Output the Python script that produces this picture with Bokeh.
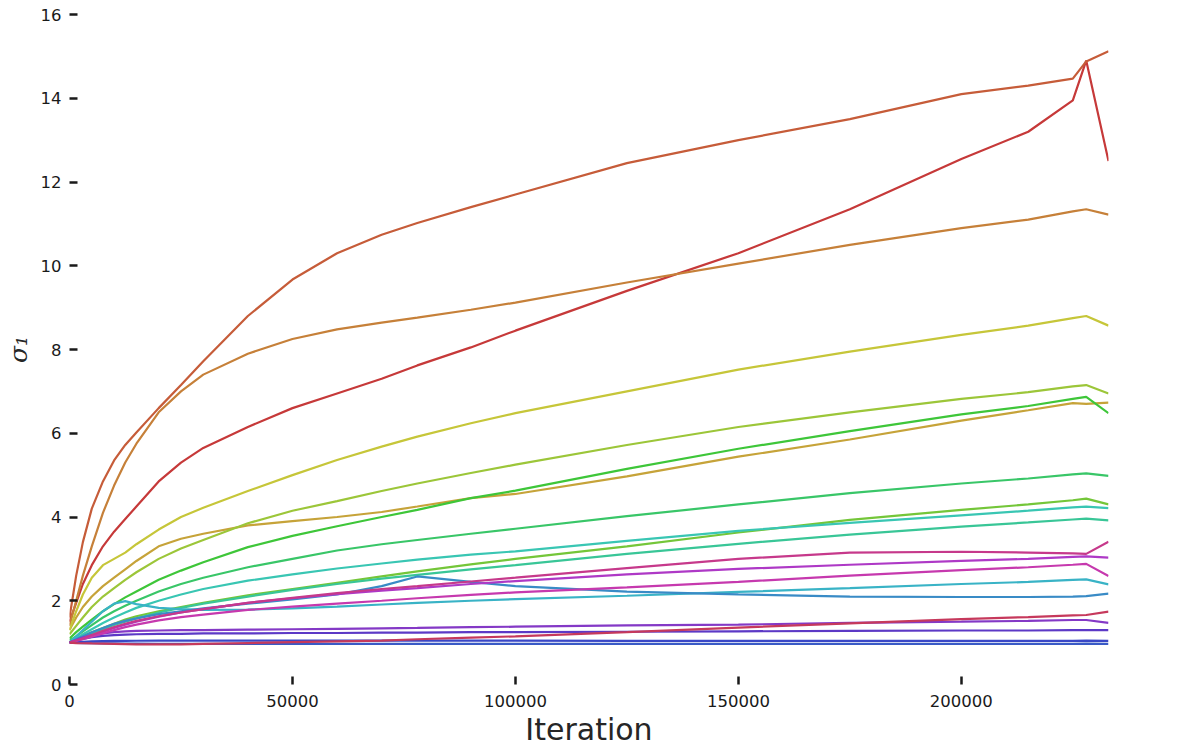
import colorsys
from bokeh.plotting import figure
from bokeh.models import Range1d, FixedTicker, BasicTickFormatter
from bokeh.embed import file_html
from bokeh.resources import INLINE

# ---- data ----
iterations = [0, 1500, 3000, 5000, 7500, 10000, 12500, 15000, 20000, 25000, 30000,
              40000, 50000, 60000, 70000, 78000, 90000, 100000, 125000, 150000,
              175000, 200000, 215000, 225000, 228000, 233000]

sigma_A = [1.6, 2.6, 3.4, 4.2, 4.85, 5.35, 5.72, 6.02, 6.6, 7.15, 7.72, 8.8, 9.67, 10.3, 10.74, 11.02,
           11.4, 11.7, 12.45, 13.0, 13.5, 14.1, 14.3, 14.47, 14.88, 15.12]
sigma_B = [1.5, 1.95, 2.4, 2.85, 3.3, 3.65, 3.95, 4.25, 4.85, 5.3, 5.65, 6.15, 6.6, 6.95, 7.3, 7.62,
           8.05, 8.45, 9.4, 10.3, 11.35, 12.55, 13.2, 13.95, 14.9, 12.5]
sigma_C = [1.4, 2.0, 2.6, 3.3, 4.1, 4.75, 5.3, 5.75, 6.5, 7.0, 7.4, 7.9, 8.25, 8.48, 8.64, 8.76,
           8.95, 9.12, 9.6, 10.05, 10.5, 10.9, 11.1, 11.3, 11.35, 11.22]
sigma_D = [1.3, 1.75, 2.15, 2.55, 2.85, 3.0, 3.15, 3.35, 3.7, 4.0, 4.22, 4.62, 5.0, 5.36, 5.68, 5.92,
           6.24, 6.48, 7.0, 7.52, 7.95, 8.35, 8.57, 8.75, 8.8, 8.57]
sigma_E = [1.3, 1.6, 1.85, 2.1, 2.35, 2.55, 2.75, 2.95, 3.3, 3.48, 3.6, 3.8, 3.9, 4.0, 4.12, 4.25,
           4.45, 4.55, 4.97, 5.44, 5.85, 6.3, 6.55, 6.72, 6.7, 6.73]
sigma_F = [1.2, 1.4, 1.6, 1.85, 2.1, 2.3, 2.5, 2.68, 3.0, 3.25, 3.45, 3.85, 4.15, 4.38, 4.62, 4.8,
           5.05, 5.25, 5.72, 6.15, 6.5, 6.82, 6.98, 7.12, 7.15, 6.95]
sigma_G = [1.1, 1.25, 1.38, 1.55, 1.75, 1.92, 2.08, 2.22, 2.5, 2.72, 2.92, 3.28, 3.55, 3.78, 4.0, 4.17,
           4.45, 4.63, 5.15, 5.63, 6.05, 6.45, 6.65, 6.82, 6.87, 6.48]
sigma_H = [1.05, 1.15, 1.27, 1.42, 1.6, 1.75, 1.88, 2.0, 2.22, 2.4, 2.55, 2.8, 3.0, 3.2, 3.35, 3.45,
           3.6, 3.72, 4.02, 4.3, 4.57, 4.8, 4.92, 5.02, 5.04, 4.98]
sigma_I = [1.0, 1.1, 1.2, 1.32, 1.47, 1.6, 1.72, 1.83, 2.0, 2.15, 2.28, 2.48, 2.63, 2.77, 2.89, 2.98,
           3.1, 3.18, 3.43, 3.67, 3.86, 4.04, 4.15, 4.23, 4.25, 4.21]
sigma_J = [1.0, 1.08, 1.15, 1.25, 1.35, 1.45, 1.55, 1.63, 1.75, 1.85, 1.95, 2.13, 2.28, 2.43, 2.58, 2.7,
           2.87, 3.0, 3.3, 3.63, 3.93, 4.17, 4.3, 4.4, 4.44, 4.3]
sigma_K = [1.0, 1.07, 1.13, 1.22, 1.32, 1.42, 1.5, 1.58, 1.72, 1.83, 1.93, 2.1, 2.26, 2.4, 2.53, 2.62,
           2.75, 2.85, 3.12, 3.36, 3.58, 3.77, 3.87, 3.94, 3.96, 3.92]
sigma_L = [1.0, 1.05, 1.1, 1.18, 1.28, 1.37, 1.45, 1.52, 1.63, 1.72, 1.8, 1.95, 2.07, 2.18, 2.28, 2.35,
           2.46, 2.55, 2.78, 3.0, 3.15, 3.17, 3.15, 3.13, 3.12, 3.41]
sigma_M = [1.0, 1.05, 1.1, 1.17, 1.26, 1.35, 1.43, 1.5, 1.62, 1.72, 1.8, 1.95, 2.06, 2.16, 2.24, 2.3,
           2.4, 2.47, 2.63, 2.76, 2.86, 2.95, 3.0, 3.05, 3.06, 3.03]
sigma_N = [1.0, 1.04, 1.08, 1.14, 1.22, 1.3, 1.37, 1.43, 1.53, 1.61, 1.67, 1.78, 1.86, 1.93, 2.0, 2.06,
           2.14, 2.2, 2.32, 2.45, 2.6, 2.73, 2.8, 2.86, 2.88, 2.59]
sigma_O = [1.0, 1.15, 1.3, 1.5, 1.75, 1.93, 1.99, 1.92, 1.83, 1.8, 1.78, 1.79, 1.82, 1.86, 1.91, 1.95,
           2.0, 2.04, 2.12, 2.21, 2.3, 2.4, 2.45, 2.5, 2.51, 2.39]
sigma_P = [1.0, 1.08, 1.15, 1.25, 1.35, 1.45, 1.52, 1.58, 1.68, 1.75, 1.82, 1.93, 2.03, 2.15, 2.35, 2.58,
           2.45, 2.35, 2.22, 2.15, 2.1, 2.09, 2.09, 2.1, 2.11, 2.17]
sigma_Q = [1.0, 0.99, 0.985, 0.98, 0.975, 0.97, 0.965, 0.96, 0.96, 0.96, 0.97, 0.99, 1.01, 1.03, 1.05, 1.08,
           1.12, 1.15, 1.25, 1.36, 1.46, 1.56, 1.61, 1.65, 1.66, 1.74]
sigma_R = [1.0, 1.06, 1.12, 1.18, 1.22, 1.25, 1.27, 1.28, 1.29, 1.3, 1.3, 1.31, 1.32, 1.33, 1.34, 1.35,
           1.37, 1.38, 1.41, 1.43, 1.47, 1.5, 1.52, 1.54, 1.54, 1.47]
sigma_S = [1.0, 1.05, 1.09, 1.13, 1.16, 1.18, 1.19, 1.2, 1.21, 1.21, 1.22, 1.22, 1.23, 1.23, 1.24, 1.24,
           1.25, 1.25, 1.26, 1.27, 1.28, 1.29, 1.29, 1.3, 1.3, 1.3]
sigma_T = [1.0, 1.01, 1.02, 1.03, 1.035, 1.04, 1.04, 1.045, 1.05, 1.05, 1.05, 1.05, 1.05, 1.05, 1.05, 1.05,
           1.05, 1.05, 1.04, 1.04, 1.04, 1.04, 1.04, 1.04, 1.05, 1.04]
sigma_U = [1.0, 0.995, 0.99, 0.985, 0.98, 0.98, 0.975, 0.975, 0.97, 0.97, 0.97, 0.97, 0.97, 0.97, 0.97, 0.97,
           0.97, 0.97, 0.97, 0.97, 0.97, 0.97, 0.97, 0.97, 0.975, 0.97]

x_ticks = [0, 50000, 100000, 150000, 200000]
y_ticks = [0, 2, 4, 6, 8, 10, 12, 14, 16]

# (series, hue in degrees) — hls palette style colouring
series = [
    (sigma_B, 0), (sigma_A, 15), (sigma_C, 30), (sigma_E, 45), (sigma_D, 60),
    (sigma_F, 78), (sigma_J, 95), (sigma_G, 118), (sigma_H, 140), (sigma_K, 160),
    (sigma_I, 172), (sigma_O, 188), (sigma_P, 205), (sigma_U, 226), (sigma_T, 234),
    (sigma_S, 255), (sigma_R, 272), (sigma_M, 290), (sigma_N, 310), (sigma_L, 325),
    (sigma_Q, 345),
]


def hls_hex(h, l=0.5, s=0.55):
    r, g, b = colorsys.hls_to_rgb(h / 360.0, l, s)
    return "#%02x%02x%02x" % (round(r * 255), round(g * 255), round(b * 255))


p = figure(frame_width=1039, frame_height=670, output_backend="svg", toolbar_location=None,
           x_range=Range1d(0, 233000), y_range=Range1d(0, 16),
           min_border_left=63, min_border_right=76, min_border_top=14, min_border_bottom=50)

for vals, hue in series:
    p.line(iterations, vals, line_color=hls_hex(hue), line_width=2.2)

p.grid.visible = False
p.outline_line_color = None
p.background_fill_color = "white"
p.border_fill_color = "white"

for ax in (p.xaxis[0], p.yaxis[0]):
    ax.axis_line_color = None
    ax.major_tick_in = 8
    ax.major_tick_out = 0
    ax.major_tick_line_width = 2.5
    ax.major_tick_line_color = "#1a1a1a"
    ax.minor_tick_line_color = None
    ax.major_label_text_font = "DejaVu Sans"
    ax.major_label_text_font_size = "16.5px"
    ax.major_label_text_color = "#1a1a1a"
    ax.formatter = BasicTickFormatter(use_scientific=False)

p.xaxis.ticker = FixedTicker(ticks=x_ticks)
p.yaxis.ticker = FixedTicker(ticks=y_ticks)
p.xaxis.major_label_standoff = 10
p.yaxis.major_label_standoff = 8

p.xaxis.axis_label = "Iteration"
p.xaxis.axis_label_text_font = "DejaVu Sans"
p.xaxis.axis_label_text_font_size = "30px"
p.xaxis.axis_label_text_font_style = "normal"
p.xaxis.axis_label_text_color = "#262626"
p.xaxis.axis_label_standoff = 2

p.yaxis.axis_label = "σ₁"
p.yaxis.axis_label_text_font = "DejaVu Serif"
p.yaxis.axis_label_text_font_size = "25px"
p.yaxis.axis_label_text_font_style = "italic"
p.yaxis.axis_label_text_color = "#262626"
p.yaxis.axis_label_standoff = 5

open("out.html", "w").write(file_html(p, INLINE))
